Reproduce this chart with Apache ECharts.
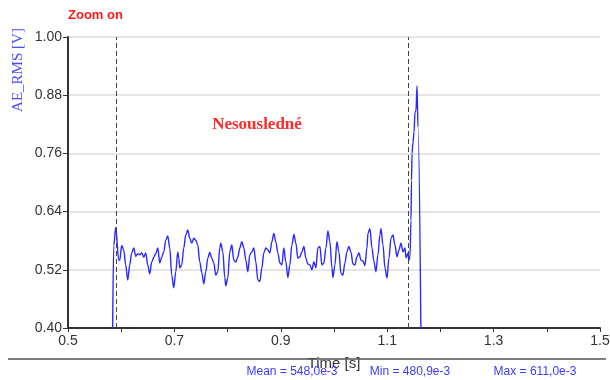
<!DOCTYPE html>
<html><head><meta charset="utf-8">
<script src="https://cdn.jsdelivr.net/npm/echarts@6/dist/echarts.min.js"></script>
<style>html,body{margin:0;padding:0;background:#fff}#c{width:610px;height:380px}</style>
</head><body><div id="c"></div>
<script>
const times = [0.5837,0.5860,0.5897,0.5954,0.5972,0.6010,0.6048,0.6085,0.6123,0.6160,0.6198,0.6236,0.6273,0.6311,0.6349,0.6386,0.6424,0.6461,0.6499,0.6537,0.6574,0.6612,0.6649,0.6687,0.6725,0.6762,0.6800,0.6838,0.6875,0.6913,0.6950,0.6988,0.7026,0.7063,0.7082,0.7101,0.7138,0.7176,0.7214,0.7251,0.7289,0.7327,0.7364,0.7402,0.7439,0.7477,0.7515,0.7552,0.7590,0.7628,0.7665,0.7703,0.7741,0.7778,0.7816,0.7853,0.7872,0.7910,0.7948,0.7966,0.8004,0.8042,0.8079,0.8117,0.8154,0.8192,0.8230,0.8267,0.8305,0.8343,0.8380,0.8418,0.8455,0.8493,0.8531,0.8568,0.8606,0.8644,0.8681,0.8719,0.8756,0.8794,0.8832,0.8869,0.8907,0.8945,0.8982,0.9020,0.9057,0.9095,0.9133,0.9170,0.9208,0.9246,0.9283,0.9321,0.9359,0.9396,0.9434,0.9471,0.9509,0.9547,0.9584,0.9622,0.9660,0.9697,0.9735,0.9772,0.9810,0.9848,0.9885,0.9923,0.9961,0.9979,1.0017,1.0055,1.0092,1.0130,1.0167,1.0205,1.0243,1.0280,1.0318,1.0356,1.0393,1.0431,1.0469,1.0506,1.0544,1.0581,1.0619,1.0638,1.0676,1.0713,1.0751,1.0788,1.0826,1.0864,1.0883,1.0920,1.0958,1.0996,1.1033,1.1071,1.1109,1.1146,1.1184,1.1221,1.1259,1.1297,1.1334,1.1353,1.1391,1.1410,1.1428,1.1447,1.1457,1.1466,1.1485,1.1504,1.1523,1.1541,1.1560,1.1579,1.1635];
const values = [0.376,0.571,0.607,0.540,0.540,0.570,0.561,0.530,0.499,0.530,0.555,0.565,0.548,0.553,0.551,0.555,0.546,0.555,0.530,0.512,0.536,0.546,0.553,0.565,0.534,0.546,0.557,0.581,0.590,0.565,0.509,0.483,0.516,0.557,0.544,0.524,0.530,0.565,0.592,0.602,0.585,0.575,0.585,0.581,0.571,0.536,0.514,0.491,0.516,0.544,0.556,0.544,0.534,0.509,0.516,0.565,0.575,0.557,0.503,0.487,0.503,0.557,0.571,0.540,0.536,0.546,0.565,0.578,0.565,0.540,0.516,0.551,0.557,0.565,0.536,0.499,0.496,0.524,0.555,0.565,0.561,0.555,0.578,0.595,0.578,0.555,0.534,0.530,0.565,0.536,0.504,0.530,0.571,0.593,0.575,0.544,0.547,0.557,0.568,0.544,0.532,0.530,0.520,0.536,0.524,0.565,0.568,0.530,0.534,0.565,0.600,0.578,0.524,0.504,0.530,0.578,0.557,0.513,0.509,0.534,0.557,0.568,0.557,0.532,0.530,0.547,0.555,0.540,0.538,0.529,0.565,0.595,0.605,0.565,0.537,0.516,0.551,0.592,0.605,0.571,0.524,0.503,0.544,0.585,0.592,0.571,0.547,0.561,0.575,0.557,0.565,0.545,0.554,0.540,0.547,0.622,0.704,0.760,0.783,0.804,0.845,0.848,0.899,0.814,0.380];
const cursorTimes = [0.5852, 1.1432];
const xTickLabels = [0.5, 0.7, 0.9, 1.1, 1.3, 1.5];
const yTickLabels = [0.40, 0.52, 0.64, 0.76, 0.88, 1.00];
const statsTexts = ['Mean = 548,0e-3', 'Min = 480,9e-3', 'Max = 611,0e-3'];
const yAxisName = 'AE_RMS [V]';
const xAxisName = 'Time [s]';
const zoomText = 'Zoom on';
const annotation = 'Nesousledné';

const chart = echarts.init(document.getElementById('c'), null, {renderer: 'canvas'});
const seriesData = times.map((t, i) => [t, values[i]]);
const statsX = [292, 410, 535];

chart.setOption({
  animation: false,
  backgroundColor: '#fff',
  grid: {left: 68, right: 10, top: 37, bottom: 52, containLabel: false, outerBoundsMode: 'none'},
  xAxis: {
    type: 'value', min: 0.5, max: 1.5, interval: 0.1,
    name: xAxisName, nameLocation: 'middle', nameGap: 28,
    nameTextStyle: {fontSize: 15, color: '#333', fontFamily: 'Liberation Sans'},
    axisLine: {lineStyle: {color: '#333', width: 2}},
    axisTick: {length: 4, lineStyle: {color: '#333'}},
    axisLabel: {customValues: xTickLabels, formatter: v => v.toFixed(1), fontSize: 14, color: '#333', margin: 6, fontFamily: 'Liberation Sans'},
    splitLine: {show: false}
  },
  yAxis: {
    type: 'value', min: 0.4, max: 1.0,
    axisLine: {show: true, lineStyle: {color: '#333', width: 2}},
    axisTick: {show: true, customValues: yTickLabels, length: 5, lineStyle: {color: '#333'}},
    axisLabel: {customValues: yTickLabels, formatter: v => v.toFixed(2), fontSize: 14, color: '#333', margin: 6, fontFamily: 'Liberation Sans'},
    splitLine: {show: true, lineStyle: {color: '#dcdcdc', width: 1.5}}
  },
  series: [{
    type: 'line', data: seriesData, showSymbol: false, clip: true,
    smooth: 0.35, smoothMonotone: 'x',
    lineStyle: {color: '#2a2aff', width: 1.4},
    markLine: {
      silent: true, symbol: 'none', label: {show: false},
      lineStyle: {type: [5, 3], color: '#444', width: 1},
      data: cursorTimes.map(t => ({xAxis: t}))
    }
  }],
  graphic: [
    {type: 'line', shape: {x1: 8, y1: 359, x2: 606, y2: 359}, style: {stroke: '#555', lineWidth: 1.5}, z: 1},
    {type: 'text', x: 68, y: 15, style: {text: zoomText, fill: '#ff1a1a', font: 'bold 13px "Liberation Sans", Arial', textVerticalAlign: 'middle'}},
    {type: 'text', x: 257, y: 125, style: {text: annotation, fill: '#ff2a2a', font: 'bold 17px "Liberation Serif", "Times New Roman", serif', textAlign: 'center', textVerticalAlign: 'middle'}},
    {type: 'text', x: 18, y: 70, rotation: Math.PI / 2, style: {text: yAxisName, fill: '#4a4aff', font: '15px "Liberation Serif", "Times New Roman", serif', textAlign: 'center', textVerticalAlign: 'middle'}},
    ...statsTexts.map((s, i) => ({type: 'text', x: statsX[i], y: 372, z: 10, style: {text: s, fill: '#3a3aff', font: '12px "Liberation Sans", Arial', textAlign: 'center', textVerticalAlign: 'middle'}}))
  ]
});
</script>
</body></html>
